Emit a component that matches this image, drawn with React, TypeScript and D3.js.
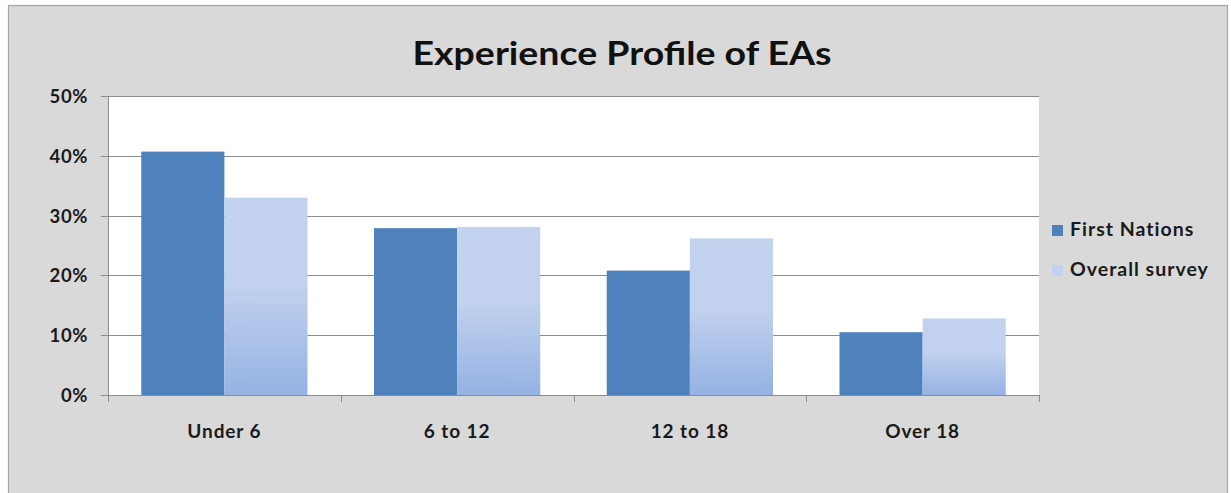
import React, { useEffect, useRef } from 'react';
import * as d3 from 'd3';

const categories = ['Under 6', '6 to 12', '12 to 18', 'Over 18'];
const seriesNames = ['First Nations', 'Overall survey'];
const firstNations = [40.7, 27.9, 20.8, 10.5];
const overallSurvey = [33.0, 28.1, 26.2, 12.8];
const yTicks = [0, 10, 20, 30, 40, 50];

export default function App() {
  const ref = useRef<SVGSVGElement>(null);

  useEffect(() => {
    if (!ref.current) return;
    const svg = d3.select(ref.current);
    svg.selectAll('*').remove();

    const W = 1231, H = 493;
    const margin = { top: 96, right: 192, bottom: 98, left: 108 };
    const font = "Lato, 'Open Sans', sans-serif";

    const defs = svg.append('defs');
    const grad = defs.append('linearGradient')
      .attr('id', 'lightGrad')
      .attr('x1', 0).attr('y1', 0).attr('x2', 0).attr('y2', 1);
    grad.append('stop').attr('offset', '0%').attr('stop-color', '#c3d3ee');
    grad.append('stop').attr('offset', '45%').attr('stop-color', '#c1d1ee');
    grad.append('stop').attr('offset', '100%').attr('stop-color', '#95b2e3');

    // chart background + border
    svg.append('rect').attr('x', 0).attr('y', 0).attr('width', W).attr('height', H).attr('fill', '#ffffff');
    svg.append('rect')
      .attr('x', 8.5).attr('y', 5.5).attr('width', W - 12).attr('height', H + 10)
      .attr('fill', '#d9d9d9').attr('stroke', '#a6a6a6').attr('stroke-width', 1.2);

    const x0 = d3.scaleBand<string>()
      .domain(categories)
      .range([margin.left, W - margin.right])
      .paddingInner(0)
      .paddingOuter(0);
    const x1 = d3.scaleBand<string>()
      .domain(seriesNames)
      .range([0, x0.bandwidth()])
      .paddingOuter(0.4)
      .paddingInner(0);
    const y = d3.scaleLinear().domain([0, 50]).range([H - margin.bottom, margin.top]);

    // plot area
    svg.append('rect')
      .attr('x', margin.left).attr('y', margin.top)
      .attr('width', W - margin.right - margin.left)
      .attr('height', H - margin.bottom - margin.top)
      .attr('fill', '#ffffff');

    // gridlines
    svg.append('g')
      .selectAll('line')
      .data(yTicks)
      .join('line')
      .attr('x1', margin.left - 7)
      .attr('x2', W - margin.right)
      .attr('y1', d => Math.round(y(d)) + 0.5)
      .attr('y2', d => Math.round(y(d)) + 0.5)
      .attr('stroke', '#8c8c8c')
      .attr('stroke-width', 1);

    // y axis line
    svg.append('line')
      .attr('x1', margin.left + 0.5).attr('x2', margin.left + 0.5)
      .attr('y1', margin.top).attr('y2', H - margin.bottom)
      .attr('stroke', '#8c8c8c');

    // x axis ticks at category boundaries
    const bounds = categories.map(c => x0(c)!).concat([W - margin.right]);
    svg.append('g')
      .selectAll('line')
      .data(bounds)
      .join('line')
      .attr('x1', d => Math.round(d) + 0.5)
      .attr('x2', d => Math.round(d) + 0.5)
      .attr('y1', H - margin.bottom)
      .attr('y2', H - margin.bottom + 7)
      .attr('stroke', '#8c8c8c');

    // bars
    const data = [firstNations, overallSurvey];
    const fills = ['#4f81bd', 'url(#lightGrad)'];
    categories.forEach((c, i) => {
      seriesNames.forEach((s, j) => {
        const v = data[j][i];
        svg.append('rect')
          .attr('x', x0(c)! + x1(s)!)
          .attr('y', y(v))
          .attr('width', x1.bandwidth())
          .attr('height', y(0) - y(v))
          .attr('fill', fills[j]);
      });
    });

    // y tick labels
    svg.append('g')
      .selectAll('text')
      .data(yTicks)
      .join('text')
      .attr('x', 88)
      .attr('y', d => y(d) + 7)
      .attr('text-anchor', 'end')
      .attr('font-family', font)
      .attr('font-weight', 700)
      .attr('font-size', 18.5)
      .attr('letter-spacing', 0.6)
      .attr('fill', '#1a1a1a')
      .text(d => `${d}%`);

    // x labels
    svg.append('g')
      .selectAll('text')
      .data(categories)
      .join('text')
      .attr('x', d => x0(d)! + x0.bandwidth() / 2)
      .attr('y', 438)
      .attr('text-anchor', 'middle')
      .attr('font-family', font)
      .attr('font-weight', 700)
      .attr('font-size', 19)
      .attr('letter-spacing', 0.9)
      .attr('fill', '#1a1a1a')
      .text(d => d);

    // title
    svg.append('text')
      .attr('x', 622)
      .attr('y', 65)
      .attr('text-anchor', 'middle')
      .attr('font-family', font)
      .attr('font-weight', 700)
      .attr('font-size', 32)
      .attr('fill', '#111')
      .attr('textLength', 419)
      .attr('lengthAdjust', 'spacingAndGlyphs')
      .text('Experience Profile of EAs');

    // legend
    const legendColors = ['#4f81bd', '#c1d1ee'];
    const legend = svg.append('g');
    seriesNames.forEach((s, i) => {
      const ly = 230 + i * 40;
      legend.append('rect')
        .attr('x', 1052).attr('y', ly - 5)
        .attr('width', 11).attr('height', 11)
        .attr('fill', legendColors[i]);
      legend.append('text')
        .attr('x', 1070).attr('y', ly + 6)
        .attr('font-family', font)
        .attr('font-weight', 700)
        .attr('font-size', 19.5)
        .attr('letter-spacing', 1)
        .attr('fill', '#1a1a1a')
        .text(s);
    });
  }, []);

  return (
    <div style={{ position: 'absolute', left: 0, top: 0 }}>
      <svg ref={ref} width={1231} height={493} style={{ display: 'block' }} />
    </div>
  );
}
